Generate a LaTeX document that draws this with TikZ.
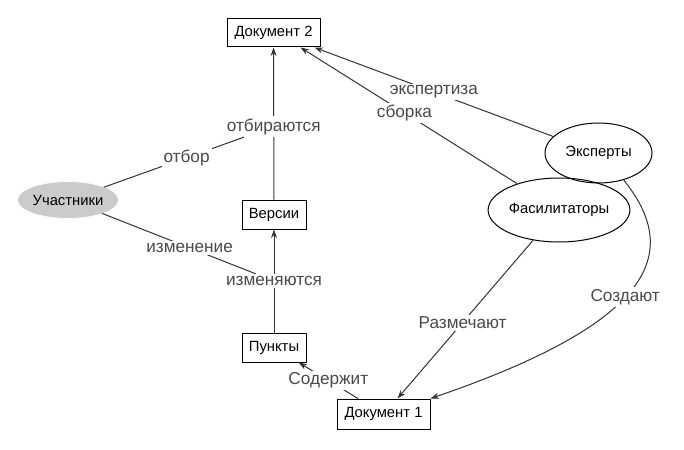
\documentclass[tikz,border=0pt]{standalone}
\usepackage{fontspec}
\setmainfont{Liberation Sans}
\usetikzlibrary{arrows.meta,shapes.geometric}
\definecolor{labelgray}{HTML}{4A4A4A}
\definecolor{linegray}{HTML}{333333}
\definecolor{partgray}{HTML}{CBCBCB}
\begin{document}
\begin{tikzpicture}[x=1pt,y=-1pt,
  nodefont/.style={font=\fontsize{14.8}{16}\selectfont},
  box/.style={draw=black, line width=1pt, inner sep=0pt, minimum height=29pt, nodefont},
  ell/.style={ellipse, draw=black, line width=1pt, inner sep=0pt, nodefont},
  lbl/.style={fill=white, text=labelgray, inner sep=2pt, font=\fontsize{17.2}{19}\selectfont},
  ln/.style={draw=linegray, line width=1pt},
  arr/.style={ln, -{Stealth[length=8.5pt,width=6pt]}, fill=none}]
\useasboundingbox (0,0) rectangle (684,449);
% nodes
\node[box, minimum width=93pt, minimum height=28pt] (d2) at (273.5,33) {Документ 2};
\node[box, minimum width=64pt] (v) at (274,214.5) {Версии};
\node[box, minimum width=64pt] (p) at (274,347.5) {Пункты};
\node[box, minimum width=93pt, minimum height=30pt] (d1) at (383.5,414) {Документ 1};
\node[ellipse, fill=partgray, inner sep=0pt, minimum width=97pt, minimum height=36pt, nodefont] (u) at (68,200) {Участники};
\node[ell, minimum width=107pt, minimum height=60pt] (e) at (598.5,153) {Эксперты};
\node[ell, minimum width=138pt, minimum height=64pt] (f) at (559,210) {Фасилитаторы};
% edges
\draw[arr] (v) -- node[lbl, pos=0.48] (lo) {отбираются} (d2);
\draw[arr] (p) -- node[lbl] (li) {изменяются} (v);
\draw[ln] (u) -- node[lbl, pos=0.59] (lsel) {отбор} (lo);
\draw[ln] (u) -- node[lbl, pos=0.57] (lchg) {изменение} (li);
\draw[arr] (d1) -- node[lbl] (lcont) {Содержит} (p);
\draw[arr] (e.160) -- node[lbl] (lexp) {экспертиза} ([xshift=-6pt]d2.south east);
\draw[arr] (f) -- node[lbl, pos=0.52] (lasm) {сборка} ([xshift=-20pt]d2.south east);
\draw[arr] (f) -- node[lbl, pos=0.52] (lmark) {Размечают} ([xshift=14pt]d1.north);
\draw[arr] (e.-47) .. controls (680,250) and (660,320) .. node[lbl, pos=0.55] (lcreate) {Создают} (d1.north east);
\end{tikzpicture}
\end{document}
